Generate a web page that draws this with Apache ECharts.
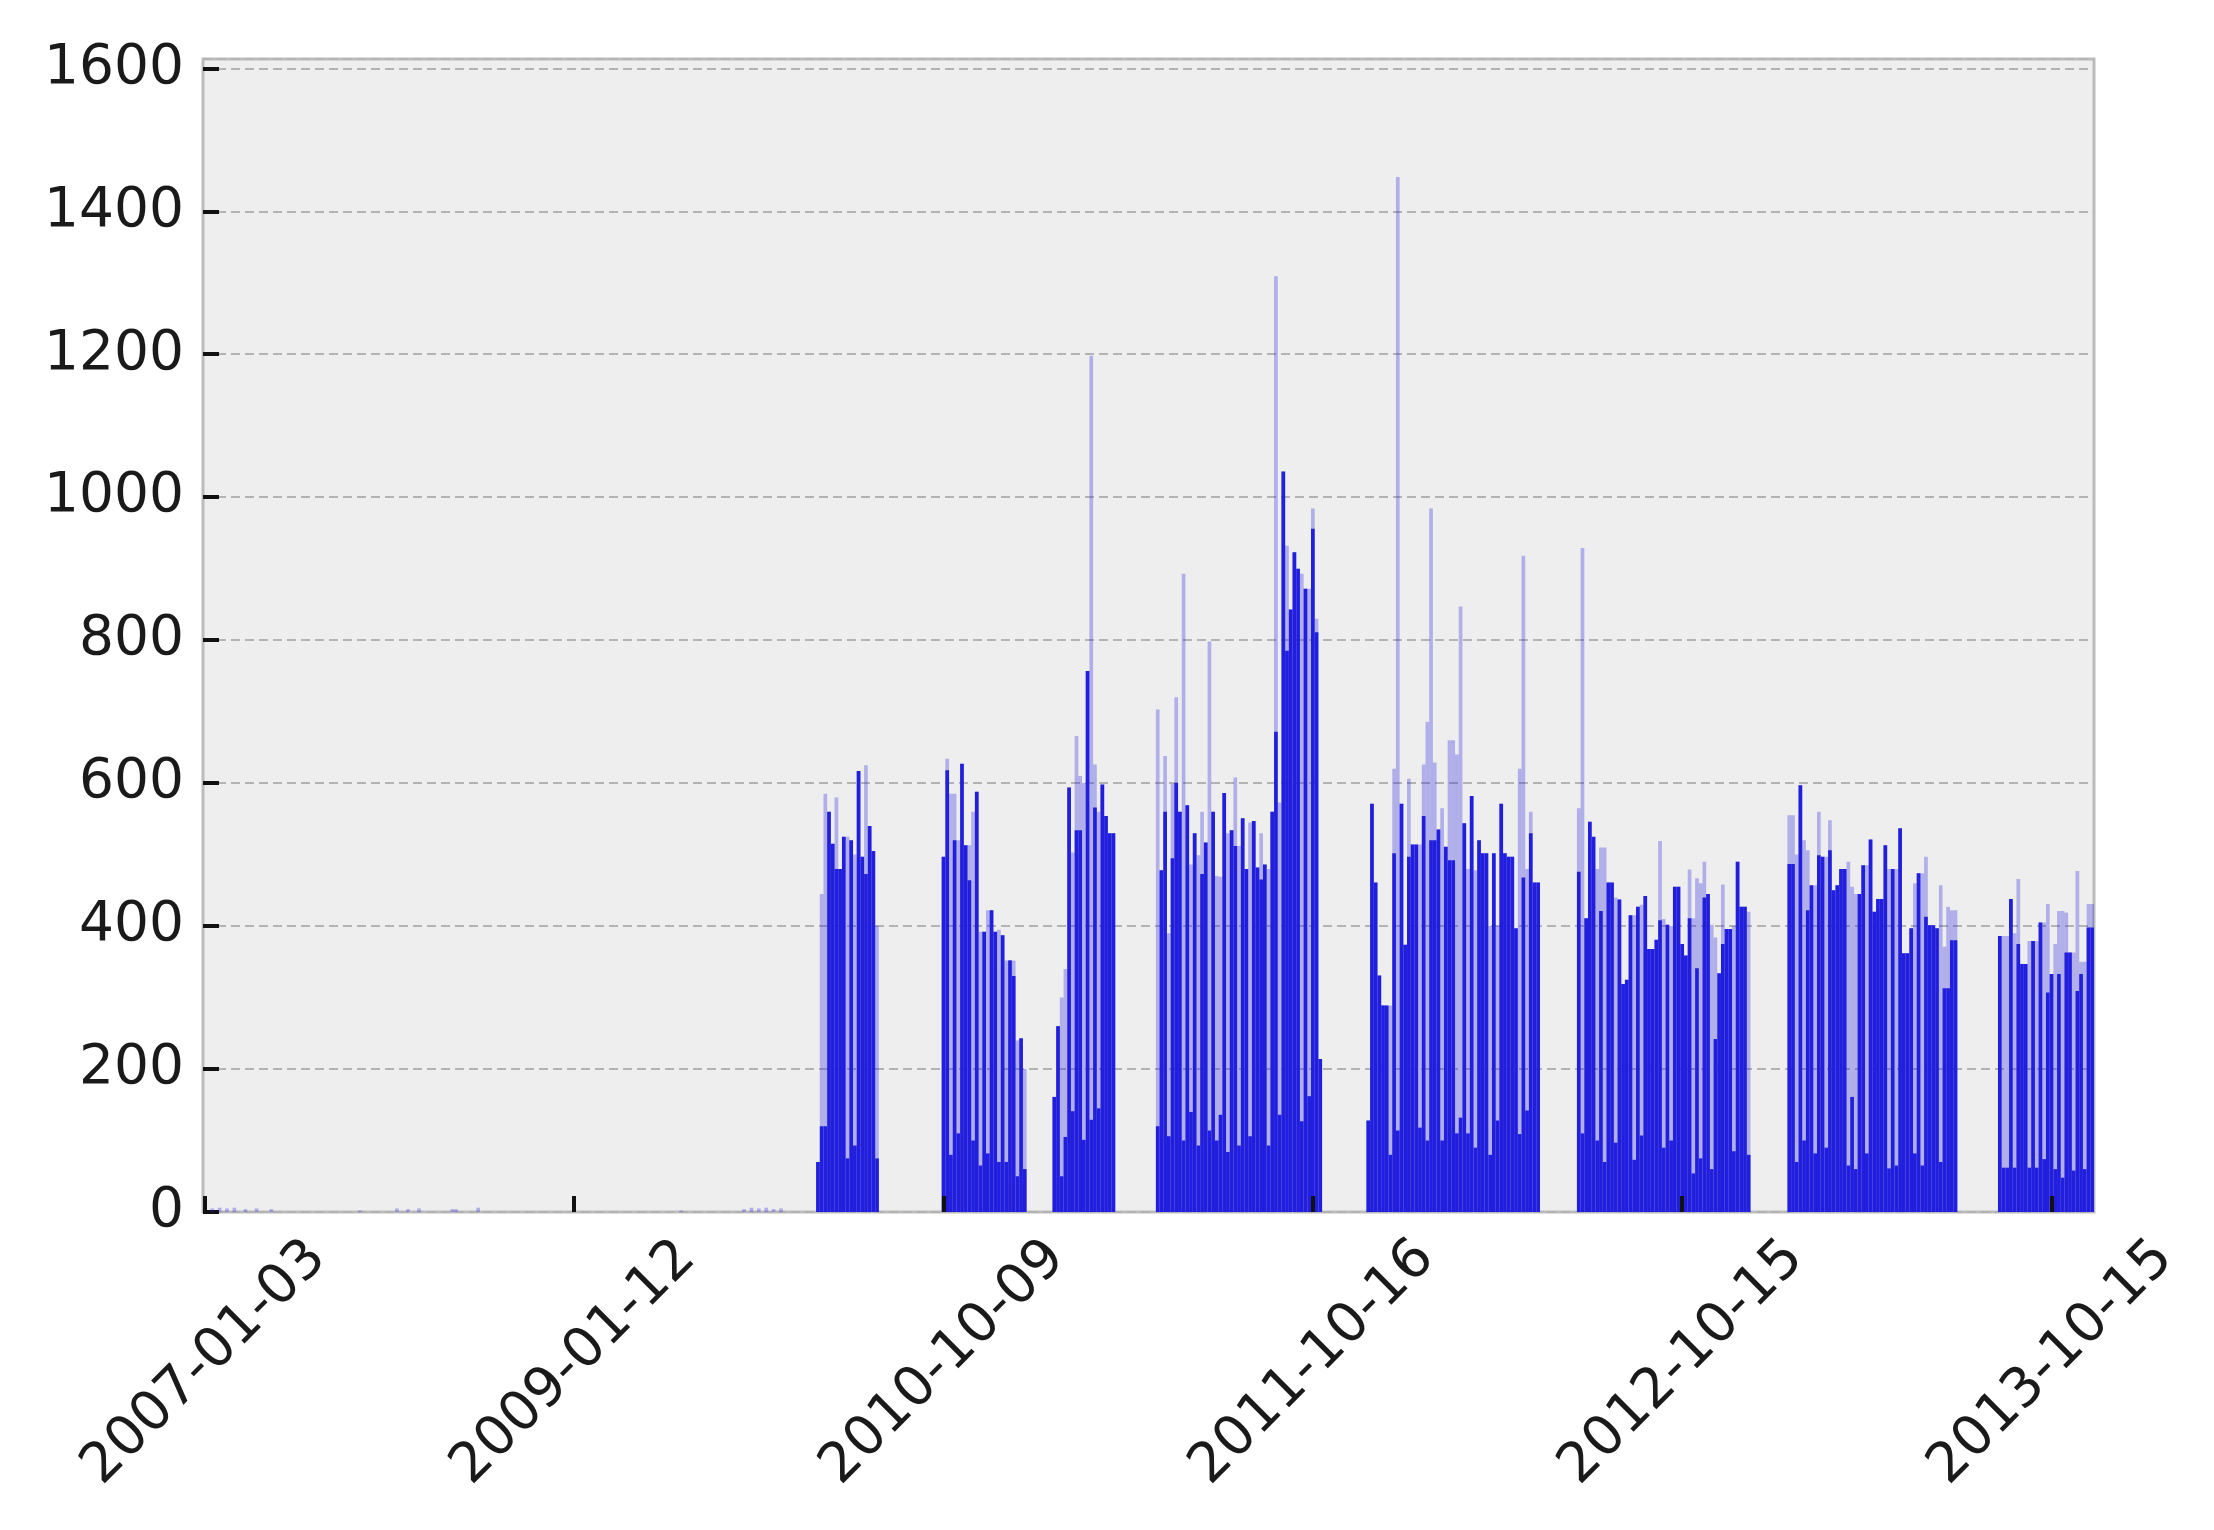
<!DOCTYPE html>
<html>
<head>
<meta charset="utf-8">
<script src="https://cdn.jsdelivr.net/npm/echarts@6/dist/echarts.min.js"></script>
<style>
html,body{margin:0;padding:0;background:#ffffff;}
#chart{width:2214px;height:1530px;}
</style>
</head>
<body>
<div id="chart"></div>
<script>
// ---- data ----
const N_CATEGORIES = 512;
const tickLabels = ['2007-01-03', '2009-01-12', '2010-10-09', '2011-10-16', '2012-10-15', '2013-10-15'];
const tickIndex = [0, 100, 200, 300, 400, 500];

// early sparse small values (light)
const earlyIdx = [0, 2, 4, 6, 8, 11, 14, 18, 42, 52, 55, 58, 67, 68, 74, 129, 146, 148, 150, 152, 154, 156];
const earlyVal = [6, 5, 6, 5, 6, 4, 5, 4, 2, 5, 4, 5, 4, 4, 6, 2, 4, 6, 5, 6, 4, 5];

const c1Start = 166;
const c1Dark  = [70,120,120,560,515,480,480,525,75,520,93,617,497,473,540,505,75];
const c1Light = [70,445,585,560,515,580,480,525,525,520,500,617,497,625,540,505,400];

const c2Start = 200;
const c2Dark  = [497,618,80,520,110,627,513,464,100,588,65,392,82,422,392,70,387,70,352,330,50,243,60];
const c2Light = [497,634,585,585,520,627,513,513,560,588,392,392,422,422,392,395,387,352,352,352,240,243,200];

const c3Start = 230;
const c3Dark  = [161,260,50,105,594,141,534,534,101,757,129,566,145,598,554,530,530];
const c3Light = [161,260,300,340,594,503,666,610,600,757,1198,626,560,598,554,530,530];

const c4Start = 258;
const c4Dark  = [120,478,560,106,495,600,560,100,569,140,530,93,473,517,114,560,100,136,586,84,534,512,93,551,480,106,547,482,465,486,93,560,672,136,1036,785,843,923,900,127,872,162,956,811,214];
const c4Light = [703,478,638,390,599,720,560,893,569,486,530,499,560,517,798,560,470,469,586,530,534,608,512,551,480,545,547,482,530,486,480,560,1309,573,1036,932,843,923,900,893,872,872,984,830,214];

const c5Start = 315;
const c5Dark  = [128,571,461,331,289,289,80,502,114,571,374,497,514,514,118,554,100,520,520,535,100,511,492,492,110,132,544,110,582,90,520,502,502,80,502,128,571,502,497,497,397,109,468,142,530,461,461];
const c5Light = [128,571,461,331,289,289,289,620,1448,571,374,606,514,514,514,626,686,984,629,535,565,511,660,660,640,847,544,480,582,478,520,502,502,400,502,400,571,502,497,497,397,620,918,480,560,461,461];

const c6Start = 372;
const c6Dark  = [476,110,411,546,525,100,421,70,461,461,97,437,319,325,415,73,427,107,442,368,368,381,408,90,402,100,455,455,375,359,411,54,341,75,440,445,60,242,334,375,396,396,85,490,427,427,80];
const c6Light = [565,929,411,546,525,480,510,510,461,461,440,437,319,325,415,415,427,430,442,368,368,381,519,410,402,400,455,455,375,359,479,411,467,460,490,445,402,384,334,458,396,396,400,490,427,427,420];

const c7Start = 429;
const c7Dark  = [487,487,70,597,100,422,457,82,499,497,90,506,450,457,480,480,65,161,60,445,485,82,521,420,438,438,513,61,480,65,537,362,362,397,82,474,65,413,401,401,397,70,313,313,380,380];
const c7Light = [555,555,500,597,520,506,457,457,560,497,497,548,450,457,480,480,490,455,445,445,485,485,521,420,438,438,513,480,480,480,537,362,362,397,460,474,474,497,401,401,397,457,371,427,422,422];

const c8Start = 486;
const c8Dark  = [386,62,62,438,62,375,347,347,62,379,62,405,74,307,333,60,333,48,363,363,58,309,333,60,398,398];
const c8Light = [386,386,386,438,390,466,347,347,379,379,379,405,405,431,333,375,421,421,419,363,363,477,350,350,431,431];

// ---- build series arrays ----
const categories = [];
const darkData = [];
const lightData = [];
for (let i = 0; i < N_CATEGORIES; i++) { categories.push('c' + i); darkData.push(0); lightData.push(0); }
earlyIdx.forEach((idx, k) => { lightData[idx] = earlyVal[k]; });
[[c1Start, c1Dark, c1Light], [c2Start, c2Dark, c2Light], [c3Start, c3Dark, c3Light], [c4Start, c4Dark, c4Light],
 [c5Start, c5Dark, c5Light], [c6Start, c6Dark, c6Light], [c7Start, c7Dark, c7Light], [c8Start, c8Dark, c8Light]]
.forEach(([s, d, l]) => { d.forEach((v, k) => { darkData[s + k] = v; lightData[s + k] = l[k]; }); });

const isTick = (i) => tickIndex.indexOf(i) >= 0;

const chart = echarts.init(document.getElementById('chart'), null, { renderer: 'canvas' });
const font = 'DejaVu Sans';
chart.setOption({
  animation: false,
  backgroundColor: '#ffffff',
  grid: {
    left: 203, right: 120, top: 59, bottom: 318,
    show: true, backgroundColor: '#eeeeee', borderColor: '#bcbcbc', borderWidth: 3
  },
  xAxis: {
    type: 'category',
    data: categories,
    boundaryGap: true,
    z: 5,
    axisLine: { show: false },
    axisTick: {
      show: true, inside: true, alignWithLabel: true, length: 16,
      interval: (i) => isTick(i),
      lineStyle: { color: '#111111', width: 4 }
    },
    axisLabel: {
      interval: (i) => isTick(i),
      formatter: (v, i) => { const k = tickIndex.indexOf(i); return k >= 0 ? tickLabels[k] : ''; },
      rotate: 45, align: 'center', verticalAlign: 'middle', margin: 151,
      fontSize: 55, fontFamily: font, color: '#1a1a1a'
    },
    splitLine: { show: false }
  },
  yAxis: {
    type: 'value', min: 0, max: 1613, interval: 200,
    axisLine: { show: false },
    axisTick: { show: true, inside: true, length: 16, lineStyle: { color: '#111111', width: 4 } },
    splitLine: { show: true, lineStyle: { color: '#b3b3b3', type: [9, 5], width: 2 } },
    axisLabel: {
      showMaxLabel: false, margin: 19, fontSize: 55, fontFamily: font, color: '#1a1a1a',
      formatter: (v) => (v % 200 === 0 ? String(v) : '')
    }
  },
  series: [
    {
      name: 'light', type: 'bar', data: lightData,
      barGap: '-100%', barCategoryGap: '0%',
      itemStyle: { color: 'rgba(33,31,221,0.3)' },
      emphasis: { disabled: true }
    },
    {
      name: 'dark', type: 'bar', data: darkData,
      barGap: '-100%', barCategoryGap: '0%',
      itemStyle: { color: '#211fdd' },
      emphasis: { disabled: true }
    }
  ]
});
</script>
</body>
</html>
